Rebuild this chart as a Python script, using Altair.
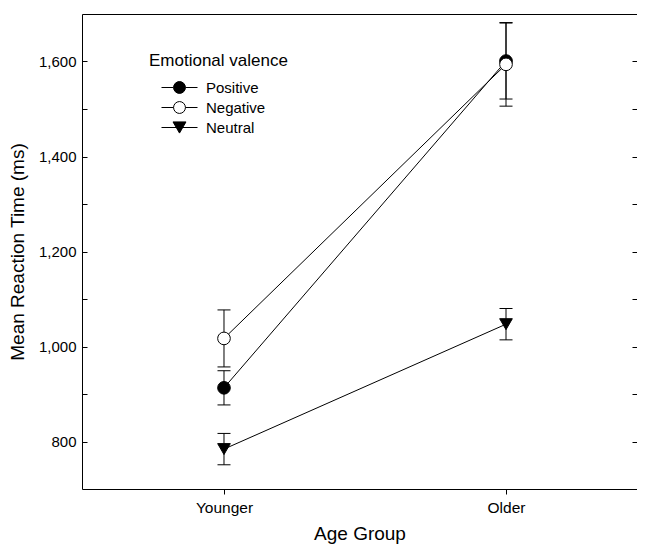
import altair as alt
import pandas as pd

# ---- data ----
groups = ["Younger", "Older"]
group_x = [1, 2]
valences = ["Positive", "Negative", "Neutral"]
positive_mean = [913, 1601]
positive_err = [36, 80]
negative_mean = [1017, 1594]
negative_err = [60, 88]
neutral_mean = [784, 1047]
neutral_err = [33, 33]
y_major = [800, 1000, 1200, 1400, 1600]
y_all_ticks = [800, 900, 1000, 1100, 1200, 1300, 1400, 1500, 1600]

rows = []
for val, m, e in [("Positive", positive_mean, positive_err),
                  ("Negative", negative_mean, negative_err),
                  ("Neutral", neutral_mean, neutral_err)]:
    for g, gx, mm, ee in zip(groups, group_x, m, e):
        rows.append({"Group": g, "x": gx, "Valence": val, "mean": mm,
                     "lo": mm - ee, "hi": mm + ee})
df = pd.DataFrame(rows)

FONT = "Liberation Sans"
label_expr = "[" + ",".join(f"'{g}'" for g in groups) + "][datum.value - 1]"

xscale = alt.Scale(domain=[0.4965, 2.4645], nice=False, zero=False)
yscale = alt.Scale(domain=[700, 1700], nice=False, zero=False)

xaxis = alt.Axis(orient="bottom", values=group_x, labelExpr=label_expr,
                 title="Age Group", grid=False, tickSize=5, tickColor="black",
                 domainColor="black", labelPadding=6, labelFontSize=15.5,
                 labelColor="black", titleFontSize=19, titleFontWeight="normal",
                 titleColor="black", titlePadding=9, labelFont=FONT,
                 titleFont=FONT)
xaxis_top = alt.Axis(orient="top", ticks=False, labels=False, grid=False,
                     domainColor="black", title=None)
xenc = alt.X("x:Q", scale=xscale, axis=xaxis)
xenc_top = alt.X("x:Q", scale=xscale, axis=xaxis_top)
xenc_none = alt.X("x:Q", scale=xscale, axis=None)

y_main_axis = alt.Axis(orient="left", values=y_major, format=",.0f",
                       tickSize=0, grid=False, domainColor="black",
                       labelPadding=6, labelFontSize=15, labelColor="black",
                       title="Mean Reaction Time (ms)", titleFontSize=19,
                       titleFontWeight="normal", titleColor="black",
                       titlePadding=11, labelFont=FONT, titleFont=FONT)
y_left_ticks = alt.Axis(orient="left", values=y_all_ticks, labels=False,
                        domain=False, grid=False, tickSize=5,
                        tickColor="black", offset=-5, title=None)
y_right_ticks = alt.Axis(orient="right", values=y_all_ticks, labels=False,
                         domain=False, grid=False, tickSize=5,
                         tickColor="black", offset=-5, title=None)

base = alt.Chart(df)

lines = base.mark_line(color="black", strokeWidth=1).encode(
    x=xenc,
    y=alt.Y("mean:Q", scale=yscale, axis=y_main_axis),
    detail="Valence:N",
)

errs = base.mark_rule(color="black", strokeWidth=1).encode(
    x=xenc_top,
    y=alt.Y("lo:Q", scale=yscale, axis=y_left_ticks),
    y2="hi:Q",
)

caps = base.transform_fold(["lo", "hi"], as_=["end", "val"]).mark_tick(
    color="black", orient="horizontal", size=13, thickness=1, opacity=1
).encode(
    x=xenc_none,
    y=alt.Y("val:Q", scale=yscale, axis=y_right_ticks),
)

points = base.mark_point(filled=True, size=160, stroke="black",
                         strokeWidth=1, opacity=1).encode(
    x=xenc_none,
    y=alt.Y("mean:Q", scale=yscale, axis=None),
    shape=alt.Shape("Valence:N",
                    scale=alt.Scale(domain=valences,
                                    range=["circle", "circle", "triangle-down"]),
                    legend=None),
    fill=alt.Fill("Valence:N",
                  scale=alt.Scale(domain=valences,
                                  range=["black", "white", "black"]),
                  legend=None),
)

circle_path = ("M-1,0H-0.33M0.33,0H1"
               "M0.33,0A0.33,0.33,0,1,1,-0.33,0"
               "A0.33,0.33,0,1,1,0.33,0Z")
tri_path = "M-1,0H1M-0.36,-0.31L0.36,-0.31L0,0.31Z"

legend_def = alt.Legend(
    title="Emotional valence", orient="none", legendX=67, legendY=39,
    titleFont=FONT, titleFontSize=17, titleFontWeight="normal",
    titleColor="black", titlePadding=10,
    labelFont=FONT, labelFontSize=15, labelColor="black",
    symbolSize=1296, symbolOffset=12, symbolStrokeColor="black",
    symbolStrokeWidth=1, labelOffset=8, rowPadding=4, padding=0,
    clipHeight=15,
)

legend_layer = base.transform_filter("false").mark_point(
    filled=True, stroke="black", strokeWidth=1, opacity=1
).encode(
    x=xenc_none,
    y=alt.Y("mean:Q", scale=yscale, axis=None),
    shape=alt.Shape("Valence:N",
                    scale=alt.Scale(domain=valences,
                                    range=[circle_path, circle_path, tri_path]),
                    legend=legend_def),
    fill=alt.Fill("Valence:N",
                  scale=alt.Scale(domain=valences,
                                  range=["black", "white", "black"]),
                  legend=legend_def),
    stroke=alt.Stroke("Valence:N",
                      scale=alt.Scale(domain=valences,
                                      range=["black", "black", "black"]),
                      legend=legend_def),
)

chart = alt.layer(lines, errs, caps, points, legend_layer).resolve_scale(
    x="independent", y="independent", shape="independent",
    fill="independent", stroke="independent"
).properties(
    width=555, height=475,
    padding={"left": 74, "top": 6, "right": 0, "bottom": 55},
    autosize=alt.AutoSizeParams(type="none"),
).configure(font=FONT).configure_view(stroke=None)

chart.save("out.html", embed_options={"renderer": "svg", "actions": False})
